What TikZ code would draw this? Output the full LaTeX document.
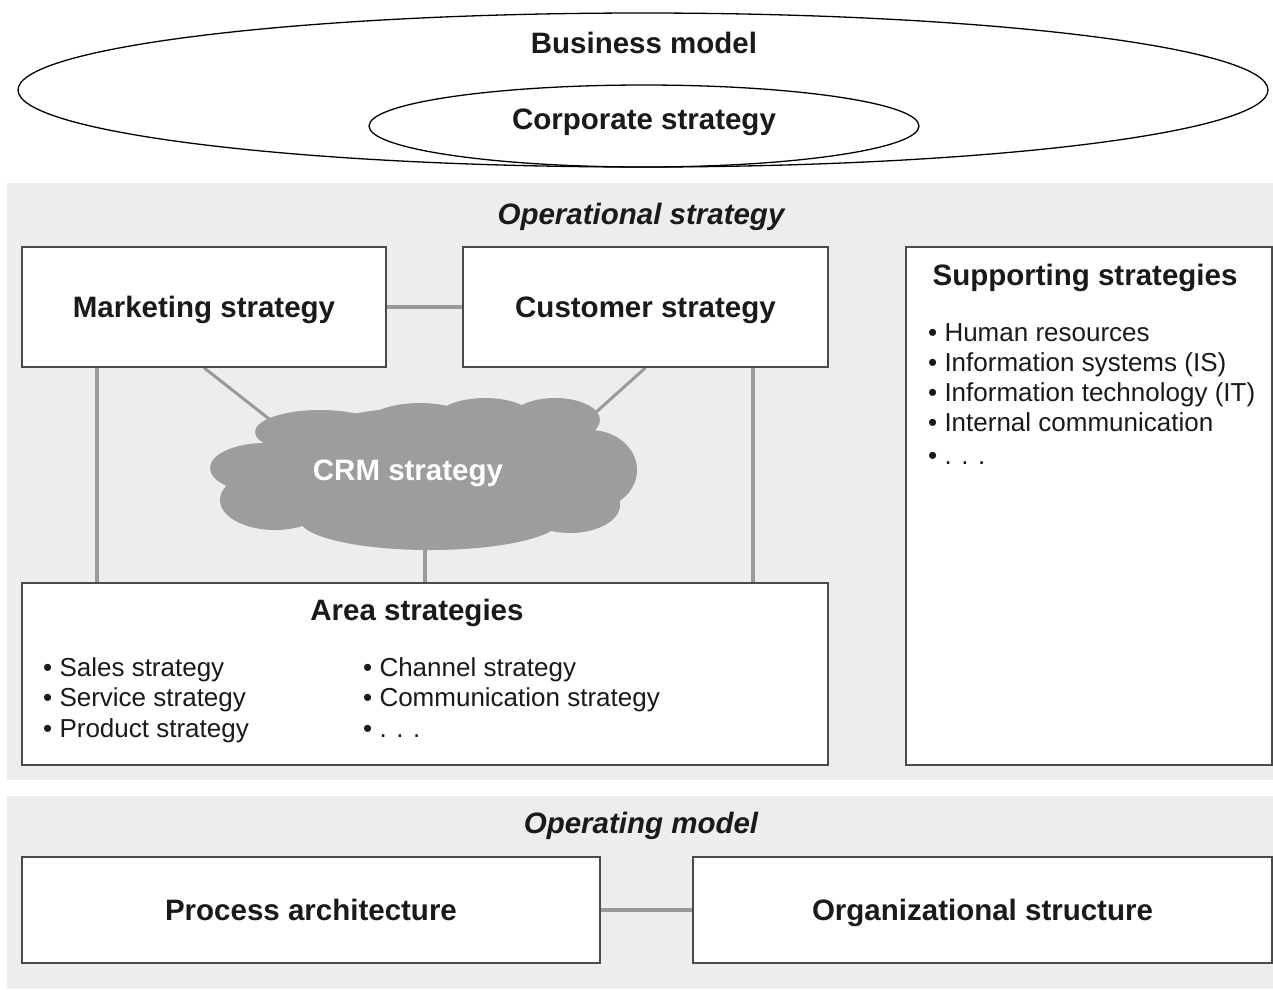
\documentclass[tikz,border=0pt]{standalone}
\usepackage{fontspec}
\setmainfont{Liberation Sans}
\usetikzlibrary{shapes.geometric}
\definecolor{panelgray}{HTML}{EDEDED}
\definecolor{linkgray}{HTML}{9A9A9A}
\definecolor{cloudgray}{HTML}{9D9D9F}
\definecolor{edgegray}{HTML}{4A4A4A}
\definecolor{inkblack}{HTML}{1A1A1A}
\pgfdeclarelayer{back}
\pgfdeclarelayer{links}
\pgfsetlayers{back,links,main}

\begin{document}
\begin{tikzpicture}[x=1pt,y=-1pt,
  titlefont/.style={font=\fontsize{29.5}{34}\selectfont\bfseries},
  listfont/.style={font=\fontsize{26}{30}\selectfont},
  panel/.style={fill=panelgray, draw=none},
  oval/.style={ellipse, draw=black, line width=1.3pt, inner sep=0pt},
  boxnode/.style={rectangle, draw=edgegray, line width=1.5pt, fill=white,
    inner sep=0pt, text height=21pt, text depth=0pt, titlefont, text=inkblack},
  label/.style={titlefont, text=inkblack, anchor=base, inner sep=0pt},
  listitem/.style={listfont, text=inkblack, anchor=base west, inner sep=0pt},
  link/.style={draw=linkgray, line width=4pt},
  thinlink/.style={draw=linkgray, line width=3pt},
  puff/.style={fill=cloudgray, draw=none},
]
\useasboundingbox (0,0) rectangle (1273,989);

% background panels
\begin{pgfonlayer}{back}
  \fill[white] (0,0) rectangle (1273,989);
  \path[panel] (7,183) rectangle (1273,780);
  \path[panel] (7,796) rectangle (1273,989);
\end{pgfonlayer}

% business model and corporate strategy
\node[oval, minimum width=1250pt, minimum height=154pt] (bizmodel) at (643,90) {};
\node[oval, minimum width=550pt, minimum height=82pt] (corpstrat) at (644,126) {};
\node[label] (bizlabel) at (644,53.5) {Business model};
\node[label] (corplabel) at (644,129.5) {Corporate strategy};

% operational strategy
\node[label] (opstrat) at (641,224.5) {\itshape Operational strategy};
\node[boxnode, minimum width=364pt, minimum height=120pt] (mkt) at (204,307) {Marketing strategy};
\node[boxnode, minimum width=365pt, minimum height=120pt] (cust) at (645.5,307) {Customer strategy};
\node[boxnode, minimum width=366pt, minimum height=518pt] (supp) at (1089,506) {};
\node[boxnode, minimum width=806pt, minimum height=182pt] (area) at (425,674) {};

\node[label] (supptitle) at (1085,285.5) {Supporting strategies};
\foreach \txt [count=\i] in {Human resources, Information systems (IS),
    Information technology (IT), Internal communication}
  \node[listitem] (supp\i) at (928,{341+30.3*(\i-1)}) {\textbullet\ \txt};
\node[listitem] (supp5) at (928,464) {\textbullet\ . . .};

\node[label] (areatitle) at (417,620.5) {Area strategies};
\foreach \txt [count=\i] in {Sales strategy, Service strategy, Product strategy}
  \node[listitem] (arealeft\i) at (43,{676+30.5*(\i-1)}) {\textbullet\ \txt};
\foreach \txt [count=\i] in {Channel strategy, Communication strategy}
  \node[listitem] (arearight\i) at (363,{676+30.5*(\i-1)}) {\textbullet\ \txt};
\node[listitem] (arearight3) at (363,737) {\textbullet\ . . .};

% CRM cloud: a body ellipse with soft puffs around it
\node[ellipse, minimum width=350pt, minimum height=136pt, inner sep=0pt,
  fill=cloudgray, draw=none] (crm) at (430,475) {};
\fill[puff] (320,432) ellipse [x radius=65, y radius=22];
\fill[puff] (420,425) ellipse [x radius=55, y radius=22];
\fill[puff] (485,420) ellipse [x radius=50, y radius=22];
\fill[puff] (555,420) ellipse [x radius=45, y radius=22];
\fill[puff] (590,470) ellipse [x radius=47, y radius=40];
\fill[puff] (265,468) ellipse [x radius=55, y radius=25];
\fill[puff] (275,500) ellipse [x radius=55, y radius=30];
\fill[puff] (430,520) ellipse [x radius=130, y radius=30];
\fill[puff] (570,505) ellipse [x radius=50, y radius=28];
\node[label, text=white] (crmlabel) at (408,480.5) {CRM strategy};

% operating model
\node[label] (opmodel) at (641,833.5) {\itshape Operating model};
\node[boxnode, minimum width=578pt, minimum height=106pt] (proc) at (311,910) {Process architecture};
\node[boxnode, minimum width=579pt, minimum height=106pt] (org) at (982.5,910) {Organizational structure};

% connectors
\begin{pgfonlayer}{links}
  \draw[link] (mkt.east) -- (cust.west);
  \draw[link] ([xshift=76pt]mkt.south west) -- ([xshift=76pt]mkt.south west |- area.north);
  \draw[link] ([xshift=-76pt]cust.south east) -- ([xshift=-76pt]cust.south east |- area.north);
  \draw[link] ([xshift=-5pt]crm.south) -- ([xshift=-5pt]crm.south |- area.north);
  \draw[thinlink] (mkt.south) -- (crm.164.4);
  \draw[thinlink] (cust.south) -- (crm.16.6);
  \draw[link] (proc.east) -- (org.west);
\end{pgfonlayer}
\end{tikzpicture}
\end{document}
